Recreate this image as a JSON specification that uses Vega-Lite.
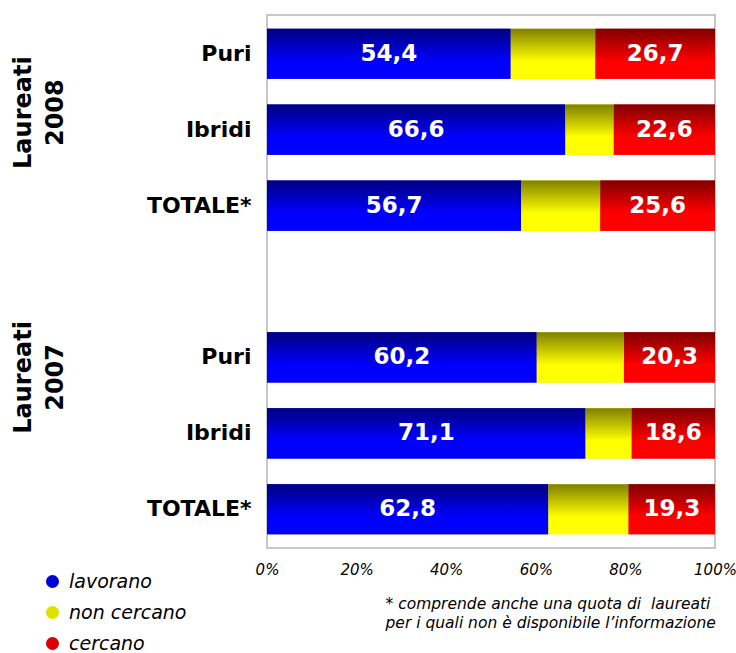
{
  "$schema": "https://vega.github.io/schema/vega-lite/v6.json",
  "width": 448,
  "height": 533,
  "autosize": {"type": "none"},
  "padding": {"left": 267, "top": 15, "right": 21, "bottom": 105},
  "background": "white",
  "config": {
    "locale": {"number": {"decimal": ",", "thousands": ".", "grouping": [3], "currency": ["", " €"]}},
    "font": "DejaVu Sans",
    "view": {"stroke": "#c8c8c8", "strokeWidth": 2}
  },
  "datasets": {
    "bars": [
      {"slot": "2008|Puri", "series": "lavorano", "value": 54.4},
      {"slot": "2008|Puri", "series": "non cercano", "value": 18.9},
      {"slot": "2008|Puri", "series": "cercano", "value": 26.7},
      {"slot": "2008|Ibridi", "series": "lavorano", "value": 66.6},
      {"slot": "2008|Ibridi", "series": "non cercano", "value": 10.8},
      {"slot": "2008|Ibridi", "series": "cercano", "value": 22.6},
      {"slot": "2008|TOTALE*", "series": "lavorano", "value": 56.7},
      {"slot": "2008|TOTALE*", "series": "non cercano", "value": 17.7},
      {"slot": "2008|TOTALE*", "series": "cercano", "value": 25.6},
      {"slot": "2007|Puri", "series": "lavorano", "value": 60.2},
      {"slot": "2007|Puri", "series": "non cercano", "value": 19.5},
      {"slot": "2007|Puri", "series": "cercano", "value": 20.3},
      {"slot": "2007|Ibridi", "series": "lavorano", "value": 71.1},
      {"slot": "2007|Ibridi", "series": "non cercano", "value": 10.3},
      {"slot": "2007|Ibridi", "series": "cercano", "value": 18.6},
      {"slot": "2007|TOTALE*", "series": "lavorano", "value": 62.8},
      {"slot": "2007|TOTALE*", "series": "non cercano", "value": 17.9},
      {"slot": "2007|TOTALE*", "series": "cercano", "value": 19.3}
    ],
    "groups": [
      {"slot": "2008|Ibridi", "label": "Laureati\n2008", "year": "2008"},
      {"slot": "2007|Puri", "label": "Laureati\n2007", "year": "2007"}
    ]
  },
  "layer": [
    {
      "data": {"name": "bars"},
      "transform": [
        {"calculate": "indexof(['lavorano','non cercano','cercano'], datum.series)", "as": "rank"},
        {"stack": "value", "groupby": ["slot"], "sort": [{"field": "rank", "order": "ascending"}], "as": ["x0", "x1"]}
      ],
      "mark": {"type": "bar", "strokeWidth": 0},
      "encoding": {
        "x": {
          "field": "x0", "type": "quantitative",
          "scale": {"domain": [0, 100], "nice": false},
          "axis": {
            "values": [0, 20, 40, 60, 80, 100],
            "labelExpr": "datum.value + '%'",
            "grid": false, "ticks": false, "domain": false,
            "labelFont": "DejaVu Sans", "labelFontSize": 15, "labelFontStyle": "italic",
            "labelColor": "black", "labelPadding": 14, "labelFlush": false,
            "title": ["* comprende anche una quota di \u00a0laureati", "per i quali non è disponibile l’informazione"],
            "titleAnchor": "start", "titleAlign": "left", "titleBaseline": "alphabetic",
            "titleX": 118, "titleY": 60, "titleLineHeight": 19,
            "titleFont": "DejaVu Sans", "titleFontSize": 15.5, "titleFontStyle": "italic",
            "titleFontWeight": "normal", "titleColor": "black"
          }
        },
        "x2": {"field": "x1"},
        "y": {
          "field": "slot", "type": "nominal",
          "scale": {
            "domain": ["2008|Puri", "2008|Ibridi", "2008|TOTALE*", "gap|", "2007|Puri", "2007|Ibridi", "2007|TOTALE*"],
            "paddingInner": 0.34, "paddingOuter": 0.18
          },
          "axis": {
            "labelExpr": "split(datum.value, '|')[1]",
            "ticks": false, "domain": false, "grid": false,
            "labelFont": "DejaVu Sans", "labelFontSize": 22, "labelFontWeight": "bold",
            "labelColor": "black", "labelPadding": 16, "title": null
          }
        },
        "color": {
          "field": "series", "type": "nominal",
          "scale": {
            "domain": ["lavorano", "non cercano", "cercano"],
            "range": ["#0000d8", "#e0e000", "#d80000"]
          },
          "legend": {
            "orient": "none", "legendX": -224, "legendY": 557, "direction": "vertical",
            "title": null, "padding": 0,
            "symbolType": "circle", "symbolSize": 170, "symbolStrokeWidth": 0, "symbolOpacity": 1,
            "labelFont": "DejaVu Sans", "labelFontSize": 19, "labelFontStyle": "italic",
            "labelColor": "black", "labelOffset": 7, "rowPadding": 11
          }
        }
      }
    },
    {
      "data": {"name": "bars"},
      "transform": [
        {"calculate": "indexof(['lavorano','non cercano','cercano'], datum.series)", "as": "rank"},
        {"stack": "value", "groupby": ["slot"], "sort": [{"field": "rank", "order": "ascending"}], "as": ["x0", "x1"]},
        {"filter": "datum.series == 'lavorano'"}
      ],
      "mark": {"type": "bar", "strokeWidth": 0, "fill": {"gradient": "linear", "x1": 0, "y1": 0, "x2": 0, "y2": 1, "stops": [{"offset": 0, "color": "#000080"}, {"offset": 0.65, "color": "#0000ff"}, {"offset": 1, "color": "#0000ff"}]}},
      "encoding": {
        "x": {"field": "x0", "type": "quantitative", "scale": {"domain": [0, 100], "nice": false}},
        "x2": {"field": "x1"},
        "y": {"field": "slot", "type": "nominal"}
      }
    },
    {
      "data": {"name": "bars"},
      "transform": [
        {"calculate": "indexof(['lavorano','non cercano','cercano'], datum.series)", "as": "rank"},
        {"stack": "value", "groupby": ["slot"], "sort": [{"field": "rank", "order": "ascending"}], "as": ["x0", "x1"]},
        {"filter": "datum.series == 'non cercano'"}
      ],
      "mark": {"type": "bar", "strokeWidth": 0, "fill": {"gradient": "linear", "x1": 0, "y1": 0, "x2": 0, "y2": 1, "stops": [{"offset": 0, "color": "#808000"}, {"offset": 0.65, "color": "#ffff00"}, {"offset": 1, "color": "#ffff00"}]}},
      "encoding": {
        "x": {"field": "x0", "type": "quantitative", "scale": {"domain": [0, 100], "nice": false}},
        "x2": {"field": "x1"},
        "y": {"field": "slot", "type": "nominal"}
      }
    },
    {
      "data": {"name": "bars"},
      "transform": [
        {"calculate": "indexof(['lavorano','non cercano','cercano'], datum.series)", "as": "rank"},
        {"stack": "value", "groupby": ["slot"], "sort": [{"field": "rank", "order": "ascending"}], "as": ["x0", "x1"]},
        {"filter": "datum.series == 'cercano'"}
      ],
      "mark": {"type": "bar", "strokeWidth": 0, "fill": {"gradient": "linear", "x1": 0, "y1": 0, "x2": 0, "y2": 1, "stops": [{"offset": 0, "color": "#800000"}, {"offset": 0.65, "color": "#ff0000"}, {"offset": 1, "color": "#ff0000"}]}},
      "encoding": {
        "x": {"field": "x0", "type": "quantitative", "scale": {"domain": [0, 100], "nice": false}},
        "x2": {"field": "x1"},
        "y": {"field": "slot", "type": "nominal"}
      }
    },
    {
      "data": {"name": "bars"},
      "transform": [
        {"calculate": "indexof(['lavorano','non cercano','cercano'], datum.series)", "as": "rank"},
        {"stack": "value", "groupby": ["slot"], "sort": [{"field": "rank", "order": "ascending"}], "as": ["x0", "x1"]},
        {"filter": "datum.series != 'non cercano'"},
        {"calculate": "(datum.x0 + datum.x1) / 2", "as": "mid"}
      ],
      "mark": {"type": "text", "color": "white", "font": "DejaVu Sans", "fontWeight": "bold", "fontSize": 23, "align": "center", "baseline": "middle"},
      "encoding": {
        "x": {"field": "mid", "type": "quantitative", "scale": {"domain": [0, 100], "nice": false}},
        "y": {"field": "slot", "type": "nominal"},
        "text": {"field": "value", "type": "quantitative", "format": ".1f"}
      }
    },
    {
      "data": {"name": "groups"},
      "transform": [{"filter": "datum.year == '2008'"}],
      "mark": {"type": "text", "angle": 270, "lineBreak": "\n", "font": "DejaVu Sans", "fontWeight": "bold", "fontSize": 24, "lineHeight": 32, "align": "center", "baseline": "middle", "color": "black", "dx": 17},
      "encoding": {
        "x": {"datum": -54.2, "type": "quantitative", "scale": {"domain": [0, 100], "nice": false}},
        "y": {"field": "slot", "type": "nominal"},
        "text": {"field": "label"}
      }
    },
    {
      "data": {"name": "groups"},
      "transform": [{"filter": "datum.year == '2007'"}],
      "mark": {"type": "text", "angle": 270, "lineBreak": "\n", "font": "DejaVu Sans", "fontWeight": "bold", "fontSize": 24, "lineHeight": 32, "align": "center", "baseline": "middle", "color": "black", "dx": -20},
      "encoding": {
        "x": {"datum": -54.2, "type": "quantitative", "scale": {"domain": [0, 100], "nice": false}},
        "y": {"field": "slot", "type": "nominal"},
        "text": {"field": "label"}
      }
    }
  ]
}
